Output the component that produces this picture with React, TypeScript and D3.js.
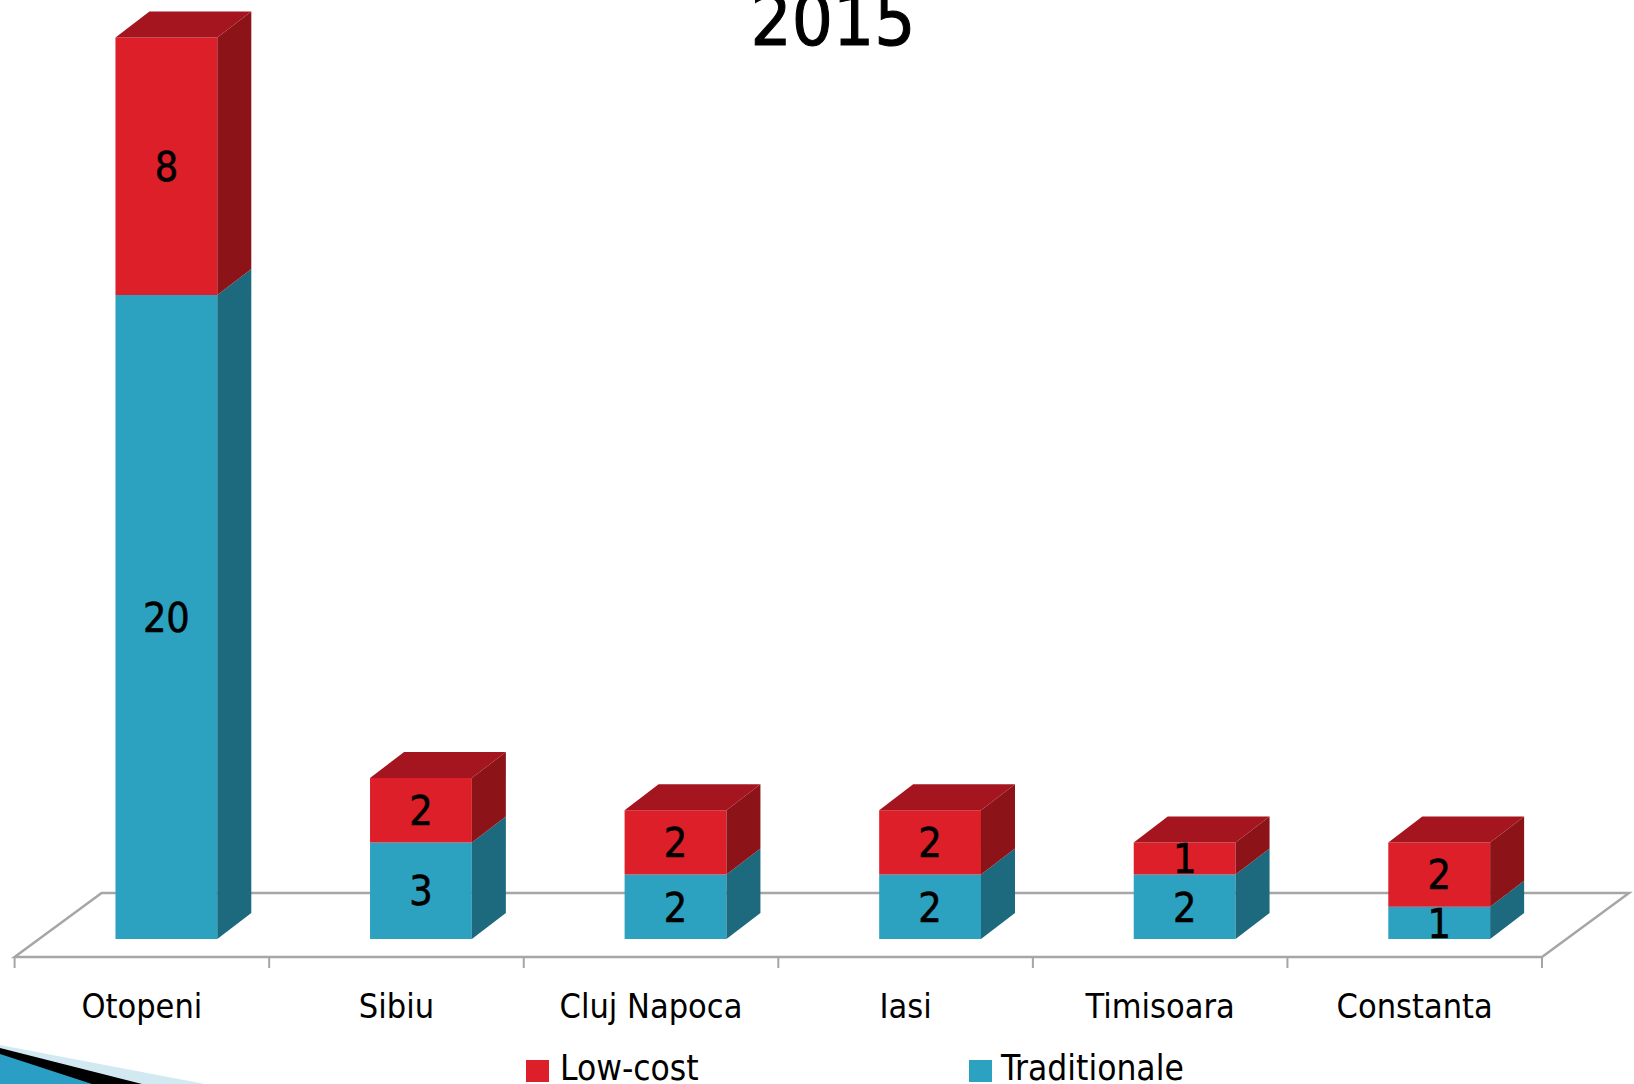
import React from "react";
import * as d3 from "d3";

const title = "2015";
const categories = ["Otopeni", "Sibiu", "Cluj Napoca", "Iasi", "Timisoara", "Constanta"];
const traditionale = [20, 3, 2, 2, 2, 1];
const lowCost = [8, 2, 2, 2, 1, 2];
const seriesNames = ["Low-cost", "Traditionale"];

const W = 1634;
const H = 1084;
const FONT = "'DejaVu Sans Condensed', 'DejaVu Sans', sans-serif";

// faces: front, side, top
const colors = {
  low: { front: "#dc1f29", side: "#8c1419", top: "#a4151f" },
  trad: { front: "#2ca2c0", side: "#1d697d", top: "#238aa6" },
};

// floor geometry
const floorFront = 957;
const floorLeft = 14.6;
const floorRight = 1542;
const floorDx = 87;
const floorDy = 64;

// bar depth
const depthDx = 34;
const depthDy = 26;
const barShift = 24.5; // bars sit a little behind the floor front edge
const baseY = 939;

export default function App() {
  const x = d3
    .scaleBand<string>()
    .domain(categories)
    .range([floorLeft, floorRight])
    .paddingInner(0.6)
    .paddingOuter(0.3);

  const y = d3.scaleLinear().domain([0, 28]).range([baseY, baseY - 28 * 32.2]);

  const step = x.step();
  const ticks = d3.range(categories.length + 1).map((i) => floorLeft + i * step);

  const face = (pts: [number, number][]) => d3.line()(pts) + "Z";

  const bars = categories.map((c, i) => {
    const x0 = (x(c) as number) + barShift;
    const x1 = x0 + x.bandwidth();
    const segs = [
      { v0: 0, v1: traditionale[i], col: colors.trad, val: traditionale[i] },
      { v0: traditionale[i], v1: traditionale[i] + lowCost[i], col: colors.low, val: lowCost[i] },
    ];
    return (
      <g key={c}>
        {segs.map((s, j) => {
          const yb = y(s.v0);
          const yt = y(s.v1);
          return (
            <g key={j}>
              <path d={face([[x0, yt], [x1, yt], [x1, yb], [x0, yb]])} fill={s.col.front} />
              <path
                d={face([[x1, yt], [x1 + depthDx, yt - depthDy], [x1 + depthDx, yb - depthDy], [x1, yb]])}
                fill={s.col.side}
              />
              {j === segs.length - 1 && (
                <path
                  d={face([[x0, yt], [x0 + depthDx, yt - depthDy], [x1 + depthDx, yt - depthDy], [x1, yt]])}
                  fill={s.col.top}
                />
              )}
            </g>
          );
        })}
        {segs.map((s, j) => (
          <text
            key={"t" + j}
            x={(x0 + x1) / 2}
            y={(y(s.v0) + y(s.v1)) / 2}
            dy="0.36em"
            textAnchor="middle"
            fontSize={41}
            fontFamily={FONT}
            fill="#000"
            stroke="#000"
            strokeWidth={0.6}
          >
            {s.val}
          </text>
        ))}
      </g>
    );
  });

  const floorPts: [number, number][] = [
    [floorLeft, floorFront],
    [floorRight, floorFront],
    [floorRight + floorDx, floorFront - floorDy],
    [floorLeft + floorDx, floorFront - floorDy],
  ];

  return (
    <svg
      width={W}
      height={H}
      style={{ position: "absolute", left: 0, top: 0, background: "#fff" }}
      fontFamily={FONT}
    >
      <rect width={W} height={H} fill="#fff" />
      {/* slide decoration */}
      <path d="M0,1045 L205,1084 L0,1084Z" fill="#d3e9f2" />
      <path d="M0,1048 L142,1084 L0,1084Z" fill="#000" />
      <path d="M0,1054 L92,1084 L0,1084Z" fill="#2a9ec4" />

      <text x={833} y={45} textAnchor="middle" fontSize={72} fill="#000" stroke="#000" strokeWidth={1}>
        {title}
      </text>

      {/* floor */}
      <path d={face(floorPts)} fill="none" stroke="#a6a6a6" strokeWidth={2.5} />
      {ticks.map((t, i) => (
        <line key={i} x1={t} x2={t} y1={floorFront} y2={floorFront + 11} stroke="#a6a6a6" strokeWidth={2} />
      ))}

      {bars}

      {categories.map((c) => (
        <text
          key={c}
          x={(x(c) as number) + x.bandwidth() / 2}
          y={1018}
          textAnchor="middle"
          fontSize={34}
          fill="#000"
        >
          {c}
        </text>
      ))}

      {/* legend */}
      <rect x={526} y={1060} width={23} height={22} fill={colors.low.front} />
      <text x={560} y={1080} fontSize={35} fill="#000">
        {seriesNames[0]}
      </text>
      <rect x={969} y={1060} width={23} height={22} fill={colors.trad.front} />
      <text x={1001} y={1080} fontSize={35} fill="#000">
        {seriesNames[1]}
      </text>
    </svg>
  );
}
